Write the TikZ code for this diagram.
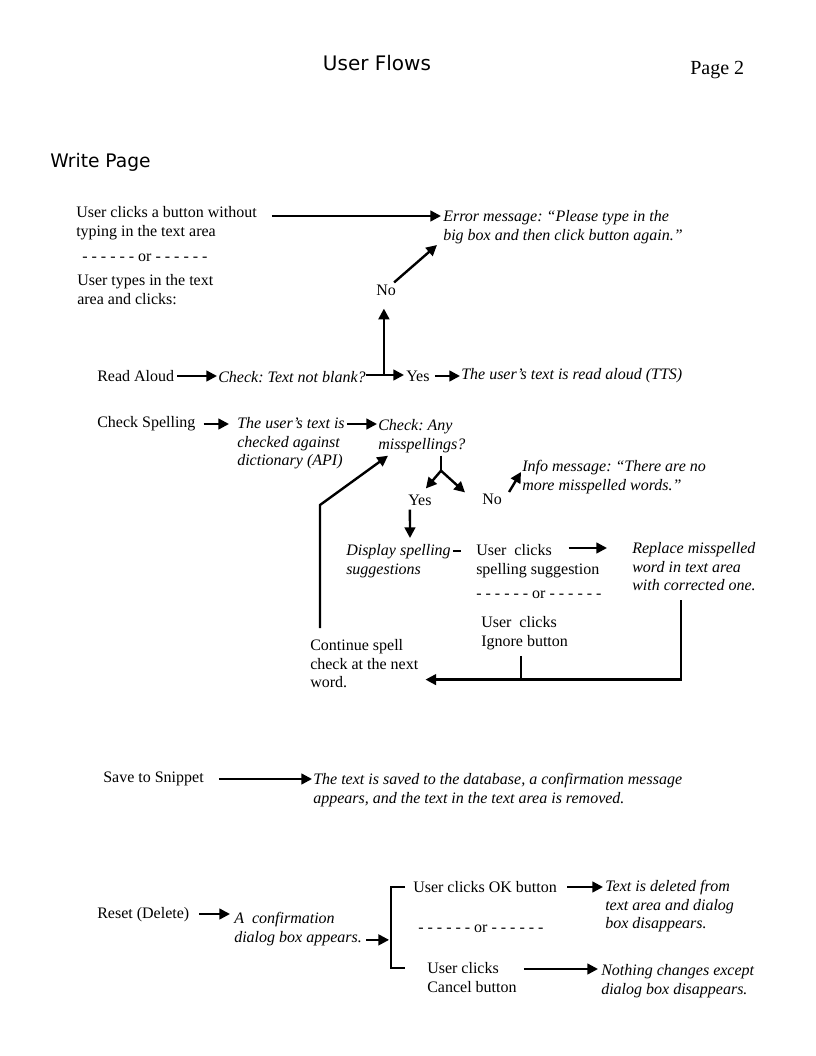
\documentclass[tikz,border=0pt]{standalone}
\usepackage{fontspec}
\setmainfont{Liberation Serif}
\newfontfamily\headfont{DejaVu Sans}
\usepackage{tikz}
\usetikzlibrary{arrows.meta,calc}
\frenchspacing

\begin{document}
\begin{tikzpicture}[
    x=0.75pt, y=-0.75pt,
    txt/.style={inner sep=0pt, align=left, font=\fontsize{12}{14}\selectfont},
    it/.style={txt, font=\fontsize{12}{14}\selectfont\itshape},
    head/.style={inner sep=0pt, font=\headfont\fontsize{#1}{#1}\selectfont},
    head/.default=14,
    arr/.style={-{Triangle[length=8pt, width=8pt]}, line width=1.8pt},
    ln/.style={line width=1.8pt}
]
\useasboundingbox (0,0) rectangle (816,1056);

% Header
\node[head=15] (title) at (377, 63) {User Flows};
\node[txt, anchor=west, font=\fontsize{15}{15}\selectfont] (pg) at (690, 70) {Page 2};
\node[head=14, anchor=west] (wp) at (50, 162) {Write Page};

% Read Aloud
\node[txt, anchor=north west] (uc) at (76, 206) {User clicks a button without\\typing in the text area};
\node[it, anchor=north west] (err) at (443, 210) {Error message: “Please type in the\\big box and then click button again.”};
\node[txt, anchor=west] (or1) at (82, 258) {- - - - - - or - - - - - -};
\node[txt, anchor=north west] (ut) at (77, 274) {User types in the text\\area and clicks:};
\node[txt, anchor=west] (no1) at (376, 290) {No};
\node[txt, anchor=west] (ra) at (97, 376) {Read Aloud};
\node[it, anchor=west] (chk1) at (218, 377) {Check: Text not blank?};
\node[txt, anchor=west] (yes1) at (406, 376) {Yes};
\node[it, anchor=west] (tts) at (461, 376) {The user’s text is read aloud (TTS)};

\draw[arr] ($(uc.north east)+(15,10)$) -- ($(err.north west)+(-2,6)$);
\draw[arr] ($(no1.north east)+(-2,-2)$) -- ($(err.north west)+(-6,35)$);
\draw[arr] ($(chk1.east)+(18,-2)$) coordinate (up) -- ($(up |- no1.south)+(0,13)$);
\draw[arr] ($(ra.east)+(3,0)$) -- ($(chk1.west)+(-1,-1)$);
\draw[arr] ($(chk1.east)+(0,-2)$) -- ($(yes1.west)+(-2,-1)$);
\draw[arr] ($(yes1.east)+(5,0)$) -- ($(tts.west)+(-1,0)$);

% Check Spelling
\node[txt, anchor=west] (cs) at (97, 424) {Check Spelling};
\node[it, anchor=north west] (dict) at (237, 417) {The user’s text is\\checked against\\dictionary (API)};
\node[it, anchor=north west] (chk2) at (378, 419) {Check: Any\\misspellings?};
\node[it, anchor=north west] (info) at (522, 460) {Info message: “There are no\\more misspelled words.”};
\node[txt, anchor=west] (yes2) at (408, 500) {Yes};
\node[txt, anchor=west] (no2) at (482, 499) {No};
\node[it, anchor=north west] (disp) at (346, 544) {Display spelling\\suggestions};
\node[txt, anchor=north west] (ucs) at (476, 544) {User~~clicks\\spelling suggestion};
\node[it, anchor=north west] (repl) at (632, 542) {Replace misspelled\\word in text area\\with corrected one.};
\node[txt, anchor=west] (or2) at (476, 595) {- - - - - - or - - - - - -};
\node[txt, anchor=north west] (uci) at (481, 616) {User~~clicks\\Ignore button};
\node[txt, anchor=north west] (cont) at (310, 639) {Continue spell\\check at the next\\word.};

\draw[arr] ($(cs.east)+(8,0)$) -- ($(dict.north west)+(-8,7)$);
\draw[arr] ($(dict.north east)+(2,7)$) -- ($(chk2.north west)+(-1,5)$);
\draw[ln] ($(chk2.south west)+(63,3)$) coordinate (fork) -- ++(0,15);
\draw[arr] ($(fork)+(0,15)$) -- ($(yes2.north)+(6,-6)$);
\draw[arr] ($(fork)+(0,15)$) -- ($(no2.north west)+(-17,-1)$);
\draw[arr] ($(no2.east)+(7,-7)$) -- ($(info.north west)+(-1,12)$);
\draw[arr] ($(yes2.south)+(-10,4)$) -- ($(disp.north west)+(64,-6)$);
\draw[ln] ($(disp.north east)+(2,7)$) -- ++(8,0);
\draw[arr] ($(ucs.north east)+(-31,4)$) -- ($(repl.north west)+(-25,6)$);
\draw[arr] ($(repl.south west)+(49,9)$) |- ($(cont.east)+(7,16)$);
\draw[ln] ($(uci.south west)+(40,6)$) -- ($(uci.south west)+(40,31)$);
\draw[arr] ($(cont.north west)+(10,-11)$) -- ++(0,-123) -- ($(chk2.south west)+(10,3)$);

% Save to Snippet
\node[txt, anchor=west] (sts) at (103, 779) {Save to Snippet};
\node[it, anchor=north west] (saved) at (313, 773) {The text is saved to the database, a confirmation message\\appears, and the text in the text area is removed.};

\draw[arr] ($(sts.east)+(15,0)$) -- ($(saved.north west)+(-1,6)$);

% Reset (Delete)
\node[txt, anchor=west] (rst) at (97, 915) {Reset (Delete)};
\node[it, anchor=north west] (dlg) at (234, 912) {A~~confirmation\\dialog box appears.};
\node[txt, anchor=west] (ok) at (413, 887) {User clicks OK button};
\node[it, anchor=north west] (del) at (605, 880) {Text is deleted from\\text area and dialog\\box disappears.};
\node[txt, anchor=west] (or3) at (418, 929) {- - - - - - or - - - - - -};
\node[txt, anchor=north west] (cancel) at (427, 962) {User clicks\\Cancel button};
\node[it, anchor=north west] (noth) at (601, 964) {Nothing changes except\\dialog box disappears.};

\draw[arr] ($(rst.east)+(10,-1)$) -- ($(dlg.north west)+(-4,2)$);
\draw[arr] ($(dlg.south east)+(4,-6)$) -- ($(dlg.south east)+(27,-6)$) coordinate (brk);
\draw[ln] ($(ok.west)+(-8,0)$) -| ($(brk)+(2,0)$) |- ($(cancel.north west)+(-22,6)$);
\draw[arr] ($(ok.east)+(10,0)$) -- ($(del.north west)+(-2,7)$);
\draw[arr] ($(cancel.north east)+(7,7)$) -- ($(noth.north west)+(-3,5)$);

\end{tikzpicture}
\end{document}
